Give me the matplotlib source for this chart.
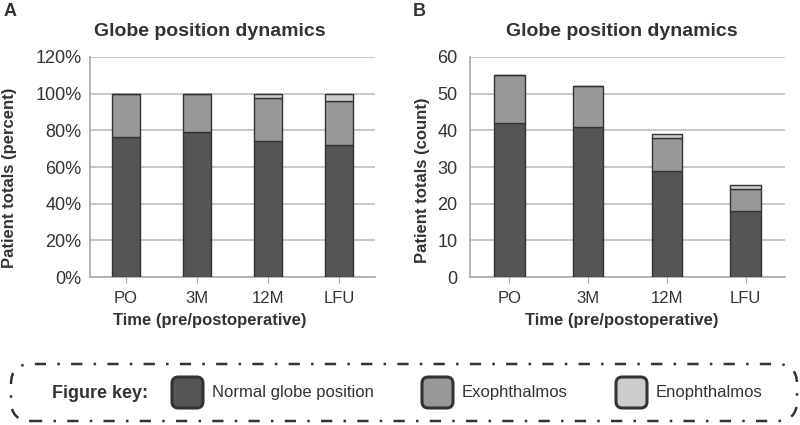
import matplotlib
matplotlib.use('Agg')
import matplotlib.pyplot as plt
import numpy as np
from matplotlib.patches import FancyBboxPatch

plt.rcParams['font.family'] = ['Liberation Sans', 'DejaVu Sans']

# data (patient counts)
timepoints = ['PO', '3M', '12M', 'LFU']
normal = [42, 41, 29, 18]
exophthalmos = [13, 11, 9, 6]
enophthalmos = [0, 0, 1, 1]
series_names = ['Normal globe position', 'Exophthalmos', 'Enophthalmos']

colors = ['#555555', '#98989b', '#cdcdcd']
edge = '#333333'
txt = '#333333'
grid_c = '#bdbdbd'

totals = np.array(normal) + np.array(exophthalmos) + np.array(enophthalmos)
pct = [np.array(s) / totals * 100 for s in (normal, exophthalmos, enophthalmos)]
cnt = [np.array(s) for s in (normal, exophthalmos, enophthalmos)]

fig = plt.figure(figsize=(8, 4.25), dpi=100)
W, H = 800, 425


def ax_at(x0, x1, y0, y1):
    return fig.add_axes([x0 / W, 1 - y1 / H, (x1 - x0) / W, (y1 - y0) / H])


def draw(ax, data, ymax, step, fmt, pad):
    x = np.arange(len(timepoints))
    bottom = np.zeros(len(timepoints))
    for vals, c in zip(data, colors):
        ax.bar(x, vals, 0.39, bottom=bottom, color=c, edgecolor=edge,
               linewidth=1.0, zorder=3)
        bottom = bottom + vals
    ax.set_xlim(-0.5, 3.5)
    ax.set_ylim(0, ymax)
    ax.set_yticks(np.arange(0, ymax + step / 2, step))
    ax.set_yticklabels([fmt(v) for v in np.arange(0, ymax + step / 2, step)])
    ax.set_xticks(x)
    ax.set_xticklabels(timepoints)
    ax.yaxis.grid(True, color=grid_c, linewidth=1.2, zorder=0)
    ax.set_axisbelow(True)
    for s in ('top', 'right'):
        ax.spines[s].set_visible(False)
    for s in ('left', 'bottom'):
        ax.spines[s].set_color('#aaaaaa')
        ax.spines[s].set_linewidth(1.2)
    ax.tick_params(axis='y', length=0, pad=pad, labelsize=13, labelcolor=txt)
    ax.tick_params(axis='x', length=4, color='#aaaaaa', pad=6, labelsize=12,
                   labelcolor=txt)


axA = ax_at(90, 375, 57, 277)
draw(axA, pct, 120, 20, lambda v: '%d%%' % v, 6)
axB = ax_at(470, 785, 57, 277)
draw(axB, cnt, 60, 10, lambda v: '%d' % v, 9)

# titles, labels, panel letters
for xc, letter, lx in [(210, 'A', 4), (622, 'B', 413)]:
    fig.text(xc / W, 1 - 31 / H, 'Globe position dynamics', ha='center',
             va='center', fontsize=14, fontweight='bold', color=txt)
    fig.text(xc / W, 1 - 320 / H, 'Time (pre/postoperative)', ha='center',
             va='center', fontsize=12, fontweight='bold', color=txt)
    fig.text(lx / W, 1 - 12 / H, letter, ha='left', va='center',
             fontsize=13, fontweight='bold', color=txt)
fig.text(10 / W, 1 - 178 / H, 'Patient totals (percent)', rotation=90,
         ha='center', va='center', fontsize=12, fontweight='bold', color=txt)
fig.text(422 / W, 1 - 180 / H, 'Patient totals (count)', rotation=90,
         ha='center', va='center', fontsize=12, fontweight='bold', color=txt)

# figure key box
box = FancyBboxPatch((11 / W, 1 - 421 / H), 786 / W, 57 / H,
                     boxstyle='round,pad=0,rounding_size=0.025',
                     transform=fig.transFigure, fill=False, edgecolor=edge,
                     linewidth=1.8, linestyle=(0, (4.5, 4.5, 1, 4.5)),
                     mutation_aspect=W / H)
fig.add_artist(box)
ky = 393
fig.text(52 / W, 1 - ky / H, 'Figure key:', ha='left', va='center',
         fontsize=13, fontweight='bold', color=txt)
for name, c, px in zip(series_names, colors, [172, 422, 616]):
    sq = FancyBboxPatch((px / W, 1 - 408 / H), 31 / W, 31 / H,
                        boxstyle='round,pad=0,rounding_size=0.008',
                        transform=fig.transFigure, facecolor=c,
                        edgecolor=edge, linewidth=2.2, mutation_aspect=W / H)
    fig.add_artist(sq)
    fig.text((px + 40) / W, 1 - ky / H, name, ha='left', va='center',
             fontsize=12, color=txt)

fig.savefig('out.png', dpi=100)
